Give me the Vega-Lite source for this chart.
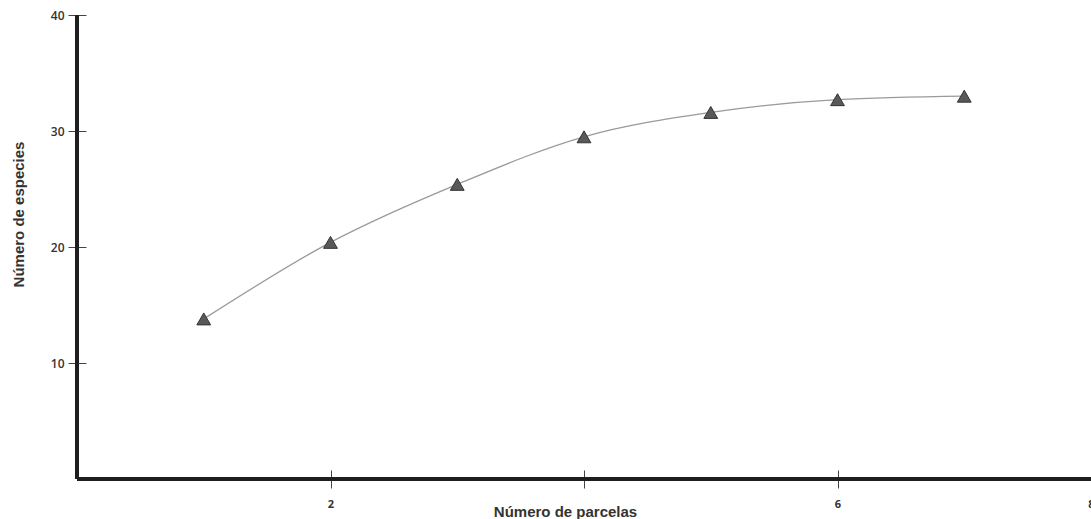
{
  "$schema": "https://vega.github.io/schema/vega-lite/v6.json",
  "autosize": {"type": "none"},
  "padding": {"left": 77, "top": 15, "right": 0, "bottom": 40},
  "width": 1014,
  "height": 464,
  "background": "white",
  "config": {
    "view": {"stroke": null},
    "axis": {"grid": false, "labelColor": "#333", "titleColor": "#333", "tickColor": "#444", "labelFont": "Open Sans", "titleFont": "Liberation Sans"}
  },
  "data": {
    "values": [
      {"parcelas": 1, "especies": 13.8},
      {"parcelas": 2, "especies": 20.4},
      {"parcelas": 3, "especies": 25.4},
      {"parcelas": 4, "especies": 29.5},
      {"parcelas": 5, "especies": 31.6},
      {"parcelas": 6, "especies": 32.7},
      {"parcelas": 7, "especies": 33.0}
    ]
  },
  "layer": [
    {
      "mark": {"type": "rule", "color": "#1e1e1e", "strokeWidth": 4, "clip": false},
      "encoding": {"x": {"datum": 0, "type": "quantitative"}}
    },
    {
      "mark": {"type": "rule", "color": "#1e1e1e", "strokeWidth": 4, "clip": false},
      "encoding": {"y": {"datum": 0, "type": "quantitative"}}
    },
    {
      "mark": {"type": "line", "interpolate": "monotone", "color": "#9a9a9a", "strokeWidth": 1.3},
      "encoding": {
        "x": {"field": "parcelas", "type": "quantitative"},
        "y": {"field": "especies", "type": "quantitative"}
      }
    },
    {
      "mark": {"type": "point", "shape": "triangle-up", "filled": true, "fill": "#595959", "stroke": "#333", "strokeWidth": 1, "size": 190, "opacity": 1},
      "encoding": {
        "x": {
          "field": "parcelas", "type": "quantitative",
          "scale": {"domain": [0, 8], "nice": false, "zero": true},
          "axis": {
            "values": [2, 4, 6, 8], "format": "d", "domain": false, "offset": -9, "tickSize": 18, "tickWidth": 1,
            "labelPadding": 10, "labelFontSize": 11, "labelFontWeight": "bold",
            "labelExpr": "datum.value == 4 ? '' : datum.label", "labelFlush": false, "labelOverlap": false, "labelBound": false,
            "title": "Número de parcelas", "titleFontSize": 15, "titleFontWeight": "bold",
            "titleX": 488, "titleY": 41, "titleBaseline": "middle", "titleAlign": "center"
          }
        },
        "y": {
          "field": "especies", "type": "quantitative",
          "scale": {"domain": [0, 40], "nice": false},
          "axis": {
            "values": [10, 20, 30, 40], "format": "d", "domain": false, "offset": -9, "tickSize": 18, "tickWidth": 1,
            "labelPadding": 4, "labelFontSize": 12, "labelFontWeight": 600, "labelFlush": false,
            "title": "Número de especies", "titleFontSize": 15, "titleFontWeight": "bold",
            "titleX": -68, "titleY": 199, "titleBaseline": "middle", "titleAlign": "center", "titleAngle": -90
          }
        }
      }
    }
  ]
}
